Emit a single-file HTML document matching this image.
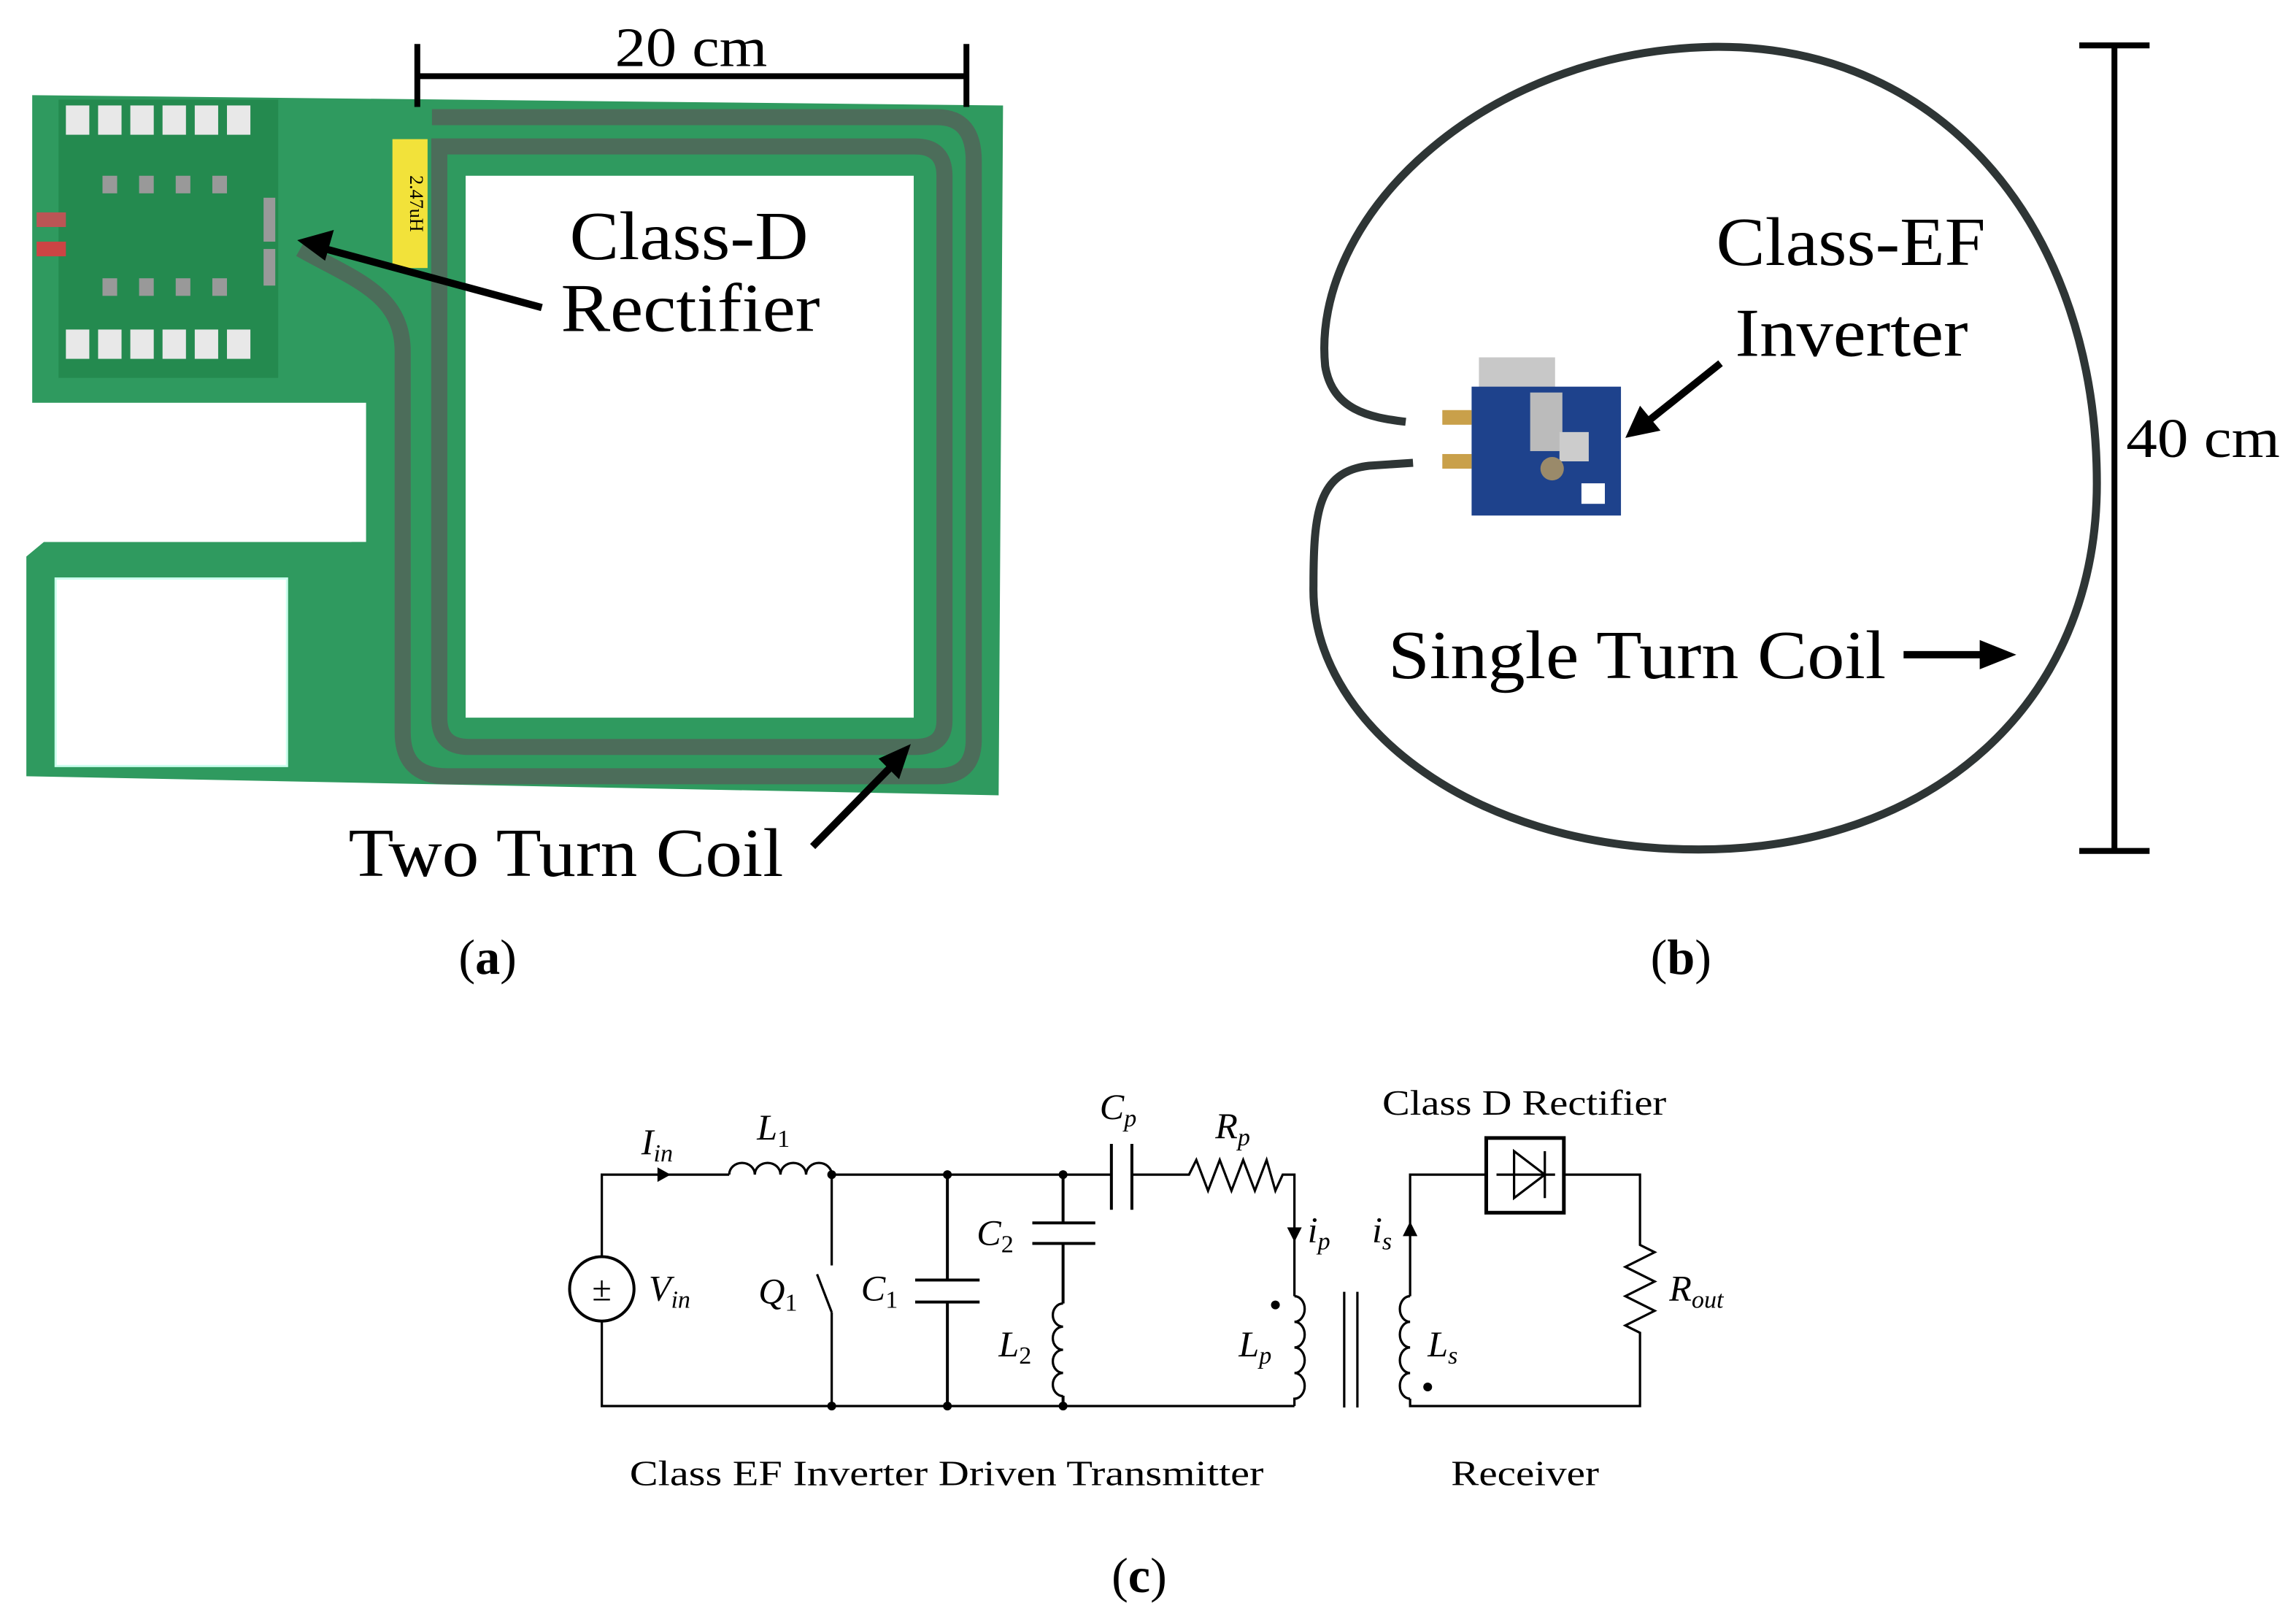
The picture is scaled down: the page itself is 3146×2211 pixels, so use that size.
<!DOCTYPE html>
<html><head><meta charset="utf-8"><style>
html,body{margin:0;padding:0;background:#fff}
svg{display:block}
text{font-family:"Liberation Serif",serif;fill:#000}
</style></head><body>
<svg width="3146" height="2211" viewBox="0 0 1568 1102" preserveAspectRatio="none" xmlns="http://www.w3.org/2000/svg">
<rect width="1568" height="1102" fill="#fff"/>

<!-- Panel (a) PCB -->
<path d="M22,65 L685,72 L682,543 L18,530 L18,380 L30,370 L250,370 L250,275 L240,275 L22,275 Z" fill="#2f9a5f"/>
<path d="M245,280 L245,362 L240,370 L18,370 L18,280 Z" fill="#fff"/>
<rect x="40" y="68" width="150" height="190" fill="#248a4f"/>
<rect x="38" y="395" width="158" height="128" fill="#fff" stroke="#cfe" stroke-width="1.5"/>
<rect x="318" y="120" width="306" height="370" fill="#fff"/>
<path d="M205,170 C240,190 275,200 275,240 L275,500 Q275,530 305,530 L640,530 Q665,530 665,505 L665,110 Q665,80 640,80 L295,80" fill="none" stroke="#4c6d5a" stroke-width="11"/>
<path d="M300,100 L625,100 Q645,100 645,120 L645,492 Q645,510 625,510 L320,510 Q300,510 300,490 Z" fill="none" stroke="#4c6d5a" stroke-width="11"/>
<rect x="268" y="95" width="24" height="88" fill="#f2e23a"/>
<text x="280" y="139" font-size="13" text-anchor="middle" transform="rotate(90 280 139)" font-family="Liberation Sans,sans-serif">2.47uH</text>
<g fill="#e8e8e8">
<rect x="45" y="72" width="16" height="20"/><rect x="67" y="72" width="16" height="20"/><rect x="89" y="72" width="16" height="20"/><rect x="111" y="72" width="16" height="20"/><rect x="133" y="72" width="16" height="20"/><rect x="155" y="72" width="16" height="20"/>
<rect x="45" y="225" width="16" height="20"/><rect x="67" y="225" width="16" height="20"/><rect x="89" y="225" width="16" height="20"/><rect x="111" y="225" width="16" height="20"/><rect x="133" y="225" width="16" height="20"/><rect x="155" y="225" width="16" height="20"/>
</g>
<g fill="#999"><rect x="70" y="120" width="10" height="12"/><rect x="95" y="120" width="10" height="12"/><rect x="120" y="120" width="10" height="12"/><rect x="145" y="120" width="10" height="12"/><rect x="70" y="190" width="10" height="12"/><rect x="95" y="190" width="10" height="12"/><rect x="120" y="190" width="10" height="12"/><rect x="145" y="190" width="10" height="12"/><rect x="180" y="135" width="8" height="30"/><rect x="180" y="170" width="8" height="25"/></g>
<rect x="25" y="145" width="20" height="10" fill="#b55"/><rect x="25" y="165" width="20" height="10" fill="#c44"/>

<line x1="285" y1="52" x2="660" y2="52" stroke="#000" stroke-width="4"/>
<line x1="285" y1="30" x2="285" y2="73" stroke="#000" stroke-width="4"/>
<line x1="660" y1="30" x2="660" y2="73" stroke="#000" stroke-width="4"/>
<text x="420" y="45" font-size="38" textLength="104" lengthAdjust="spacingAndGlyphs">20 cm</text>
<text x="389" y="177" font-size="47" textLength="163" lengthAdjust="spacingAndGlyphs">Class-D</text>
<text x="383" y="226" font-size="47" textLength="177" lengthAdjust="spacingAndGlyphs">Rectifier</text>
<line x1="370" y1="210" x2="215" y2="168" stroke="#000" stroke-width="5"/>
<path d="M203,164 L228,157 L222,178 Z" fill="#000"/>
<text x="238" y="598" font-size="47" textLength="297" lengthAdjust="spacingAndGlyphs">Two Turn Coil</text>
<line x1="555" y1="578" x2="610" y2="522" stroke="#000" stroke-width="5"/>
<path d="M622,508 L600,518 L614,532 Z" fill="#000"/>
<text x="333" y="665" font-size="34" text-anchor="middle">(<tspan font-weight="bold">a</tspan>)</text>

<!-- Panel (b) -->
<path d="M960,288 C935,285 910,280 905,250 C895,150 1010,35 1170,32 C1330,30 1432,160 1432,330 C1432,480 1320,580 1160,580 C1000,580 895,490 897,400 C897,350 900,322 935,318 L965,316" fill="none" stroke="#2e3535" stroke-width="5.5"/>
<rect x="1010" y="244" width="52" height="24" fill="#c8c8c8"/>
<rect x="1005" y="264" width="102" height="88" fill="#1e428c"/>
<rect x="1045" y="268" width="22" height="40" fill="#bbb"/>
<rect x="1065" y="295" width="20" height="20" fill="#ccc"/>
<circle cx="1060" cy="320" r="8" fill="#9a8a6a"/>
<rect x="1080" y="330" width="16" height="14" fill="#fff"/>
<rect x="985" y="280" width="20" height="10" fill="#c9a04a"/>
<rect x="985" y="310" width="20" height="10" fill="#c9a04a"/>
<line x1="1444" y1="30" x2="1444" y2="582" stroke="#000" stroke-width="4"/>
<line x1="1420" y1="31" x2="1468" y2="31" stroke="#000" stroke-width="4"/>
<line x1="1420" y1="581" x2="1468" y2="581" stroke="#000" stroke-width="4"/>
<text x="1452" y="312" font-size="38" textLength="105" lengthAdjust="spacingAndGlyphs">40 cm</text>
<text x="1172" y="181" font-size="47" textLength="184" lengthAdjust="spacingAndGlyphs">Class-EF</text>
<text x="1185" y="243" font-size="47" textLength="159" lengthAdjust="spacingAndGlyphs">Inverter</text>
<line x1="1175" y1="248" x2="1125" y2="288" stroke="#000" stroke-width="5"/>
<path d="M1110,299 L1120,277 L1134,294 Z" fill="#000"/>
<text x="948" y="463" font-size="47" textLength="340" lengthAdjust="spacingAndGlyphs">Single Turn Coil</text>
<line x1="1300" y1="447" x2="1355" y2="447" stroke="#000" stroke-width="5"/>
<path d="M1377,447 L1352,437 L1352,457 Z" fill="#000"/>
<text x="1148" y="665" font-size="34" text-anchor="middle">(<tspan font-weight="bold">b</tspan>)</text>

<!-- Panel (c) circuit -->
<g stroke="#000" stroke-width="1.6" fill="none">
<path d="M411,858 L411,802 L498,802"/>
<path d="M411,902 L411,960 L884,960"/>
<circle cx="411" cy="880" r="22" stroke-width="2"/>
<path d="M498,802 a8.75,8 0 0 1 17.5,0 a8.75,8 0 0 1 17.5,0 a8.75,8 0 0 1 17.5,0 a8.75,8 0 0 1 17.5,0"/>
<path d="M568,802 L759,802"/>
<path d="M759,781 L759,826 M773,781 L773,826" stroke-width="2"/>
<path d="M773,802 L812,802 L817,792 L825,813 L833,792 L841,813 L849,792 L857,813 L865,792 L871,813 L876,802 L884,802 L884,885"/>
<path d="M568,802 L568,864 M558,870 L568,896 M568,896 L568,960"/>
<path d="M647,802 L647,874 M647,889 L647,960 M625,874 L669,874 M625,889 L669,889" stroke-width="2"/>
<path d="M726,802 L726,835 M726,849 L726,890 M726,953 L726,960 M705,835 L748,835 M705,849 L748,849" stroke-width="2"/>
<path d="M726,890 a7,7.9 0 0 0 0,15.8 a7,7.9 0 0 0 0,15.8 a7,7.9 0 0 0 0,15.8 a7,7.9 0 0 0 0,15.8"/>
<path d="M884,885 a7,8.75 0 0 1 0,17.5 a7,8.75 0 0 1 0,17.5 a7,8.75 0 0 1 0,17.5 a7,8.75 0 0 1 0,17.5 L884,960"/>
<path d="M918,882 L918,961 M927,882 L927,961"/>
<path d="M963,885 a7,8.75 0 0 0 0,17.5 a7,8.75 0 0 0 0,17.5 a7,8.75 0 0 0 0,17.5 a7,8.75 0 0 0 0,17.5"/>
<path d="M963,885 L963,802 L1015,802 M1068,802 L1120,802 L1120,850 L1130,855 L1110,865 L1130,875 L1110,885 L1130,895 L1110,905 L1120,910 L1120,960 L963,960 L963,955"/>
<rect x="1015" y="777" width="53" height="51" stroke-width="2.5"/>
<path d="M1022,802 L1062,802 M1034,786 L1034,818 L1055,802 Z M1055,786 L1055,818"/>
</g>
<g fill="#000">
<circle cx="568" cy="802" r="3"/><circle cx="647" cy="802" r="3"/><circle cx="726" cy="802" r="3"/>
<circle cx="568" cy="960" r="3"/><circle cx="647" cy="960" r="3"/><circle cx="726" cy="960" r="3"/>
<circle cx="871" cy="891" r="3"/><circle cx="975" cy="947" r="3"/>
<path d="M458,802 L449,797 L449,807 Z"/>
<path d="M884,848 L879,838 L889,838 Z"/>
<path d="M963,834 L958,844 L968,844 Z"/>
</g>
<text x="411" y="888" font-size="24" text-anchor="middle">±</text>
<g font-size="25" font-style="italic">
<text x="443" y="888">V<tspan font-size="17" dy="5">in</tspan></text>
<text x="438" y="788">I<tspan font-size="17" dy="5">in</tspan></text>
<text x="517" y="778">L<tspan font-size="17" dy="5" font-style="normal">1</tspan></text>
<text x="518" y="890">Q<tspan font-size="17" dy="5" font-style="normal">1</tspan></text>
<text x="588" y="888">C<tspan font-size="17" dy="5" font-style="normal">1</tspan></text>
<text x="667" y="850">C<tspan font-size="17" dy="5" font-style="normal">2</tspan></text>
<text x="682" y="926">L<tspan font-size="17" dy="5" font-style="normal">2</tspan></text>
<text x="751" y="764">C<tspan font-size="17" dy="5">p</tspan></text>
<text x="830" y="777">R<tspan font-size="17" dy="5">p</tspan></text>
<text x="893" y="848">i<tspan font-size="17" dy="5">p</tspan></text>
<text x="937" y="848">i<tspan font-size="17" dy="5">s</tspan></text>
<text x="846" y="926">L<tspan font-size="17" dy="5">p</tspan></text>
<text x="975" y="926">L<tspan font-size="17" dy="5">s</tspan></text>
<text x="1140" y="888">R<tspan font-size="17" dy="5">out</tspan></text>
</g>
<text x="944" y="761" font-size="24" textLength="194" lengthAdjust="spacingAndGlyphs">Class D Rectifier</text>
<text x="430" y="1014" font-size="24" textLength="433" lengthAdjust="spacingAndGlyphs">Class EF Inverter Driven Transmitter</text>
<text x="991" y="1014" font-size="24" textLength="101" lengthAdjust="spacingAndGlyphs">Receiver</text>
<text x="778" y="1087" font-size="34" text-anchor="middle">(<tspan font-weight="bold">c</tspan>)</text>
</svg>
</body></html>
